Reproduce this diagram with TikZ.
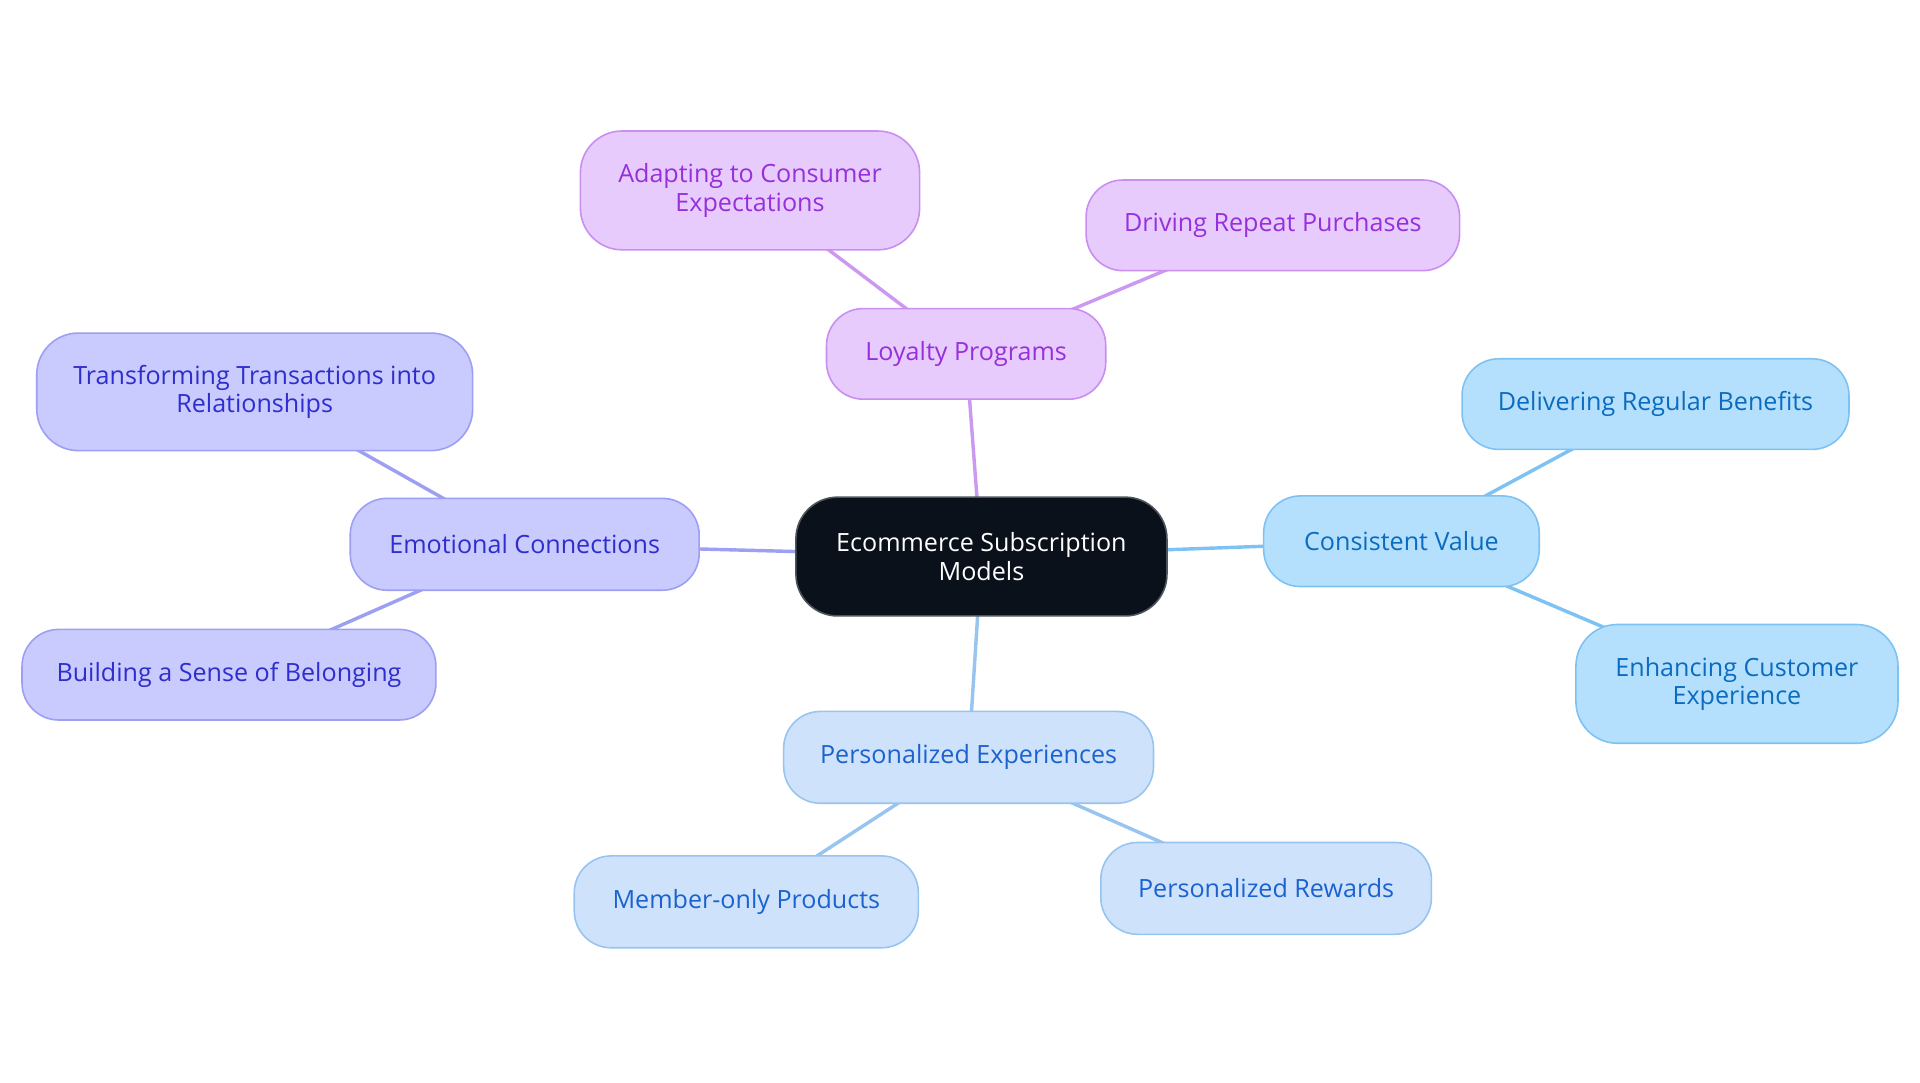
\documentclass[tikz,border=0pt]{standalone}
\usepackage{fontspec}
\setmainfont{Open Sans}
\usetikzlibrary{backgrounds}
\definecolor{pfill}{HTML}{E8CBFD}
\definecolor{pdraw}{HTML}{C98EF0}
\definecolor{ptext}{HTML}{9530DB}
\definecolor{pline}{HTML}{CC99F0}
\definecolor{ifill}{HTML}{C9CAFD}
\definecolor{idraw}{HTML}{9C9FF2}
\definecolor{itext}{HTML}{2E2ECC}
\definecolor{sfill}{HTML}{B5E0FD}
\definecolor{sdraw}{HTML}{7DC2F2}
\definecolor{stext}{HTML}{0B6CBF}
\definecolor{lfill}{HTML}{CEE3FB}
\definecolor{ldraw}{HTML}{98C4F0}
\definecolor{ltext}{HTML}{1B62CF}
\definecolor{cfill}{HTML}{0B111B}
\definecolor{cdraw}{HTML}{50555C}
\tikzset{
  box/.style={rectangle, rounded corners=30pt, inner sep=0pt, line width=1.3pt, align=center,
    font=\fontsize{20.5}{23}\selectfont},
  pbox/.style={box, fill=pfill, draw=pdraw, text=ptext},
  ibox/.style={box, fill=ifill, draw=idraw, text=itext},
  sbox/.style={box, fill=sfill, draw=sdraw, text=stext},
  lbox/.style={box, fill=lfill, draw=ldraw, text=ltext},
  cbox/.style={box, fill=cfill, draw=cdraw, text=white, rounded corners=34pt},
  link/.style={line width=2.8pt},
}
\begin{document}
\begin{tikzpicture}[x=1pt,y=-1pt]
\useasboundingbox (0,0) rectangle (1568,884);
\node[cbox, minimum width=303pt, minimum height=97pt] (c) at (801.5,454.5) {Ecommerce Subscription\\Models};
\node[pbox, minimum width=228pt, minimum height=74pt] (lp) at (789,289) {Loyalty Programs};
\node[pbox, minimum width=277pt, minimum height=97pt, rounded corners=34pt] (ad) at (612.5,155.5) {Adapting to Consumer\\Expectations};
\node[pbox, minimum width=305pt, minimum height=74pt] (dr) at (1039.5,184) {Driving Repeat Purchases};
\node[ibox, minimum width=285pt, minimum height=75pt] (em) at (428.5,444.5) {Emotional Connections};
\node[ibox, minimum width=356pt, minimum height=96pt, rounded corners=34pt] (tr) at (208,320) {Transforming Transactions into\\Relationships};
\node[ibox, minimum width=338pt, minimum height=74pt] (bu) at (187,551) {Building a Sense of Belonging};
\node[sbox, minimum width=225pt, minimum height=74pt] (cv) at (1144.5,442) {Consistent Value};
\node[sbox, minimum width=316pt, minimum height=74pt] (de) at (1352,330) {Delivering Regular Benefits};
\node[sbox, minimum width=263pt, minimum height=97pt, rounded corners=34pt] (en) at (1418.5,558.5) {Enhancing Customer\\Experience};
\node[lbox, minimum width=302pt, minimum height=75pt] (pe) at (791,618.5) {Personalized Experiences};
\node[lbox, minimum width=281pt, minimum height=75pt] (me) at (609.5,736.5) {Member-only Products};
\node[lbox, minimum width=270pt, minimum height=75pt] (pr) at (1034,725.5) {Personalized Rewards};
\begin{scope}[on background layer]
\fill[white] (0,0) rectangle (1568,884);
\draw[link, draw=pline] (c.center) -- (lp.center);
\draw[link, draw=pline] (lp.center) -- (ad.center);
\draw[link, draw=pline] (lp.center) -- (dr.center);
\draw[link, draw=idraw] (c.center) -- (em.center);
\draw[link, draw=idraw] (em.center) -- (tr.center);
\draw[link, draw=idraw] (em.center) -- (bu.center);
\draw[link, draw=sdraw] (c.center) -- (cv.center);
\draw[link, draw=sdraw] (cv.center) -- (de.center);
\draw[link, draw=sdraw] (cv.center) -- (en.center);
\draw[link, draw=ldraw] (c.center) -- (pe.center);
\draw[link, draw=ldraw] (pe.center) -- (me.center);
\draw[link, draw=ldraw] (pe.center) -- (pr.center);
\end{scope}
\end{tikzpicture}
\end{document}
